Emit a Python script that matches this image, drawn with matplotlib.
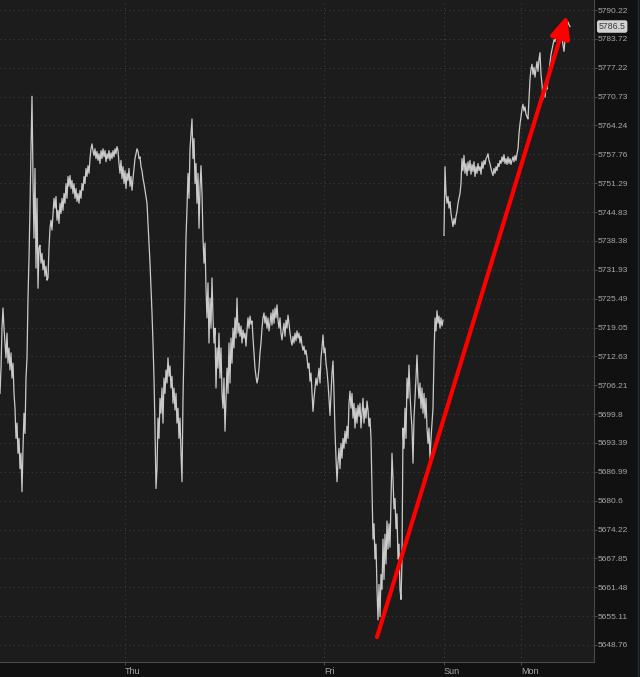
import matplotlib.pyplot as plt
import matplotlib.transforms as mtransforms
from matplotlib.ticker import NullLocator, NullFormatter
import numpy as np

# ===== DATA =====
# Wed -> Fri session, one value per bar (bar index starts at 0)
week_prices = [
    5704.4, 5710.0, 5718.9, 5723.4, 5718.9, 5715.6, 5712.3, 5717.8, 5711.1, 5714.5,
    5709.6, 5713.4, 5707.8, 5711.1, 5704.4, 5701.1, 5694.4, 5697.8, 5691.1, 5694.4,
    5687.7, 5691.1, 5682.6, 5692.2, 5700.0, 5695.5, 5707.8, 5712.3, 5725.6, 5734.5,
    5745.7, 5759.0, 5770.8, 5752.3, 5739.0, 5754.6, 5732.3, 5747.9, 5727.8, 5736.8,
    5737.4, 5733.4, 5735.6, 5731.9, 5734.1, 5730.5, 5732.7, 5729.6, 5730.1, 5736.8,
    5741.2, 5743.0, 5740.8, 5744.5, 5747.9, 5745.7, 5748.3, 5743.0, 5745.2, 5742.3,
    5746.8, 5744.5, 5747.9, 5745.2, 5749.0, 5746.8, 5751.2, 5747.9, 5752.8, 5750.6,
    5753.0, 5750.1, 5751.9, 5749.0, 5751.2, 5747.9, 5750.1, 5747.2, 5749.0, 5746.8,
    5749.7, 5747.9, 5751.2, 5749.7, 5752.8, 5751.2, 5754.6, 5752.8, 5755.2, 5753.5,
    5756.8, 5759.0, 5760.1, 5758.6, 5757.5, 5759.0, 5756.8, 5758.4, 5756.4, 5757.9,
    5755.7, 5758.6, 5756.8, 5759.0, 5757.2, 5758.6, 5756.1, 5757.9, 5756.8, 5758.6,
    5756.4, 5758.1, 5756.8, 5758.6, 5757.2, 5759.0, 5757.9, 5759.5, 5758.6, 5755.7,
    5753.5, 5756.4, 5752.3, 5755.0, 5751.2, 5754.1, 5750.1, 5753.5, 5751.9, 5754.6,
    5750.6, 5752.8, 5749.7, 5752.3, 5754.6, 5756.8, 5757.9, 5759.0, 5758.4, 5756.8,
    5757.2, 5755.0, 5754.1, 5752.3, 5751.2, 5749.7, 5748.3, 5746.8, 5742.3, 5737.9,
    5733.4, 5727.8, 5722.3, 5715.6, 5707.8, 5696.7, 5683.3, 5687.7, 5698.9, 5694.4,
    5703.3, 5700.0, 5705.6, 5697.8, 5707.8, 5704.4, 5709.6, 5706.7, 5712.3, 5708.2,
    5710.5, 5705.6, 5708.2, 5702.2, 5705.6, 5700.7, 5704.4, 5697.8, 5701.1, 5694.4,
    5698.9, 5691.1, 5684.8, 5703.3, 5714.5, 5725.6, 5739.0, 5745.7, 5753.5, 5747.9,
    5759.0, 5762.4, 5765.7, 5756.8, 5761.3, 5751.2, 5755.7, 5746.8, 5753.5, 5741.2,
    5750.1, 5755.2, 5749.0, 5739.0, 5733.4, 5737.9, 5727.8, 5721.2, 5729.0, 5715.6,
    5725.6, 5718.9, 5730.1, 5721.2, 5715.6, 5718.9, 5705.6, 5714.5, 5710.0, 5717.8,
    5707.8, 5714.5, 5704.4, 5701.1, 5707.8, 5696.0, 5703.3, 5710.0, 5704.4, 5715.6,
    5706.7, 5716.7, 5711.1, 5718.9, 5714.5, 5721.2, 5716.7, 5725.6, 5717.8, 5720.0,
    5717.1, 5719.4, 5715.6, 5718.5, 5716.7, 5717.8, 5714.9, 5718.5, 5721.2, 5718.9,
    5721.6, 5719.8, 5720.5, 5716.7, 5713.4, 5710.0, 5708.2, 5706.7, 5707.8, 5710.0,
    5713.4, 5715.6, 5718.9, 5721.2, 5722.3, 5720.0, 5721.6, 5718.9, 5721.2, 5718.3,
    5720.0, 5722.3, 5719.6, 5723.0, 5720.0, 5723.4, 5721.2, 5724.1, 5720.7, 5718.9,
    5721.2, 5717.8, 5716.3, 5718.3, 5720.0, 5717.1, 5720.7, 5718.9, 5721.8, 5720.0,
    5717.8, 5716.3, 5715.1, 5717.1, 5715.6, 5717.8, 5716.1, 5718.3, 5716.7, 5717.8,
    5715.6, 5717.1, 5715.1, 5714.0, 5714.9, 5713.1, 5714.0, 5712.3, 5710.0, 5711.1,
    5707.1, 5708.9, 5704.4, 5700.4, 5703.3, 5705.6, 5707.8, 5706.2, 5707.8, 5710.0,
    5706.7, 5712.3, 5714.5, 5717.4, 5713.4, 5714.5, 5711.1, 5709.3, 5706.7, 5703.3,
    5699.5, 5704.4, 5708.9, 5711.6, 5704.4, 5696.0, 5690.0, 5684.8, 5689.2, 5692.2,
    5687.7, 5693.3, 5690.0, 5694.4, 5692.2, 5696.0, 5693.3, 5697.1, 5694.4, 5702.2,
    5704.9, 5701.1, 5704.4, 5698.9, 5702.2, 5696.7, 5701.1, 5697.8, 5701.8, 5699.3,
    5702.2, 5696.7, 5700.0, 5703.3, 5697.8, 5701.1, 5698.9, 5702.7, 5700.7, 5697.1,
    5698.9, 5694.4, 5682.6, 5672.1, 5675.5, 5667.7, 5671.0, 5661.0, 5654.3, 5662.1,
    5655.0, 5664.3, 5661.0, 5672.1, 5663.2, 5673.2, 5666.6, 5676.1, 5669.9, 5675.5,
    5670.3, 5681.1, 5691.1, 5685.5, 5678.8, 5681.1, 5674.4, 5677.7, 5667.7, 5671.0,
    5661.0, 5658.8, 5667.7, 5696.7, 5692.2, 5701.1, 5694.4, 5707.8, 5703.3, 5710.7,
    5704.4, 5700.0, 5696.7, 5688.9, 5698.9, 5703.3, 5707.8, 5712.9, 5706.7, 5703.3,
    5706.7, 5701.1, 5705.6, 5700.0, 5704.4, 5698.9, 5703.3, 5696.7, 5693.3, 5696.7,
    5690.0, 5694.4, 5697.8, 5701.1, 5712.3, 5721.2, 5718.3, 5722.8, 5720.0, 5721.6,
    5718.9, 5721.2, 5719.4, 5720.7,
]

# Sun -> Mon session (starts right after the weekend gap)
sun_prices = [
    5739.6, 5755.0, 5749.0, 5746.8, 5748.3, 5745.7, 5747.2, 5744.5, 5743.0, 5741.6,
    5743.4, 5742.1, 5743.9, 5745.0, 5746.8, 5747.9, 5749.0, 5751.2, 5756.8, 5754.1,
    5757.5, 5753.5, 5755.7, 5753.0, 5756.1, 5754.1, 5756.4, 5753.3, 5755.5, 5753.9,
    5756.1, 5752.8, 5755.0, 5753.5, 5755.7, 5754.1, 5755.0, 5753.3, 5756.1, 5754.6,
    5756.4, 5755.5, 5756.8, 5757.2, 5757.9, 5756.4, 5755.7, 5754.6, 5753.7, 5753.0,
    5754.6, 5753.5, 5755.0, 5754.1, 5755.7, 5755.0, 5756.4, 5755.7, 5757.2, 5756.1,
    5757.7, 5755.7, 5756.8, 5755.5, 5757.2, 5755.7, 5756.8, 5755.5, 5756.4, 5757.2,
    5756.1, 5757.5, 5756.4, 5757.9, 5759.0, 5762.4, 5764.6, 5766.2, 5767.9, 5769.0,
    5767.5, 5768.4, 5766.8, 5766.2, 5765.7, 5770.2, 5774.6, 5776.9, 5778.0, 5775.7,
    5777.3, 5775.1, 5776.9, 5778.6, 5776.4, 5779.1, 5780.6, 5775.7, 5773.5, 5770.2,
    5772.0, 5770.6, 5772.8, 5772.4, 5774.6, 5776.4, 5778.4, 5780.2, 5781.3, 5782.4,
    5783.5, 5783.1, 5784.7, 5784.0, 5785.1, 5783.5, 5784.4, 5785.3, 5784.0, 5782.4,
    5780.9, 5783.5, 5785.8, 5786.4, 5787.5, 5786.9, 5786.5,
]
sun_open_bar = 444
last_price = 5786.5

day_labels = ["Thu", "Fri", "Sun", "Mon"]
day_bars = [125, 324, 444, 521]

price_ticks = [5790.22, 5783.72, 5777.22, 5770.73, 5764.24, 5757.76, 5751.29, 5744.83,
               5738.38, 5731.93, 5725.49, 5719.05, 5712.63, 5706.21, 5699.8, 5693.39,
               5686.99, 5680.6, 5674.22, 5667.85, 5661.48, 5655.11, 5648.76]
price_tick_labels = ["5790.22", "5783.72", "5777.22", "5770.73", "5764.24", "5757.76",
                     "5751.29", "5744.83", "5738.38", "5731.93", "5725.49", "5719.05",
                     "5712.63", "5706.21", "5699.8", "5693.39", "5686.99", "5680.6",
                     "5674.22", "5667.85", "5661.48", "5655.11", "5648.76"]

# trend arrow (bar, price)
arrow_start = (377, 5650.5)
arrow_end = (567, 5789.0)

# ===== STYLE =====
fig_bg = "#111111"
ax_bg = "#1c1c1c"
grid_c = "#3c3c3c"
text_c = "#a8a8a8"
line_c = "#cacaca"

fig = plt.figure(figsize=(6.4, 6.77), dpi=100, facecolor=fig_bg)
ax = fig.add_axes([0.0, 15 / 677, 594 / 640, 662 / 677])
ax.set_facecolor(ax_bg)

x1 = np.arange(len(week_prices))
x2 = sun_open_bar + np.arange(len(sun_prices))
ax.plot(x1, week_prices, color=line_c, lw=0.9)
ax.plot(x2, sun_prices, color=line_c, lw=0.9)

ax.set_yscale("log")
ax.set_ylim(5645.02, 5792.48)
ax.set_xlim(0, 594)

ax.yaxis.tick_right()
ax.set_yticks(price_ticks)
ax.set_yticklabels(price_tick_labels)
ax.yaxis.set_minor_locator(NullLocator())
ax.yaxis.set_minor_formatter(NullFormatter())
ax.tick_params(axis="y", colors=text_c, labelsize=6, length=2, width=0.6, pad=0.5,
               color="#555555")
for lab in ax.get_yticklabels():
    lab.set_fontfamily("Liberation Sans")

ax.set_xticks(day_bars)
ax.set_xticklabels(day_labels, ha="left")
ax.tick_params(axis="x", colors=text_c, labelsize=6.5, length=2, width=0.6, pad=1.5,
               color="#555555")
for lab in ax.get_xticklabels():
    lab.set_fontfamily("Liberation Sans")

ax.grid(True, color=grid_c, linestyle=(0, (1, 3)), linewidth=0.8)
for side in ["left", "top"]:
    ax.spines[side].set_visible(False)
for side in ["right", "bottom"]:
    ax.spines[side].set_color("#4a4a4a")
    ax.spines[side].set_linewidth(0.8)

# last price tag
trans = mtransforms.blended_transform_factory(ax.transAxes, ax.transData)
ax.text(1.008, last_price, "5786.5", transform=trans, ha="left", va="center",
        fontsize=6.3, color="#3a3a3a", family="Liberation Sans", clip_on=False,
        bbox=dict(boxstyle="round,pad=0.2,rounding_size=0.25", fc="#d2d2d2", ec="none"))

# thin frame line at the far right
fig.add_artist(plt.Line2D([637.5 / 640] * 2, [0, 1], transform=fig.transFigure,
                          color="#26303a", lw=1))

# red trend arrow
ax.annotate("", xy=arrow_end, xytext=arrow_start,
            arrowprops=dict(arrowstyle="-|>,head_length=0.9,head_width=0.4",
                            color="#ff0000", lw=3, mutation_scale=15,
                            shrinkA=0, shrinkB=0, capstyle="round"))

plt.savefig("out.png", dpi=100, facecolor=fig_bg)
